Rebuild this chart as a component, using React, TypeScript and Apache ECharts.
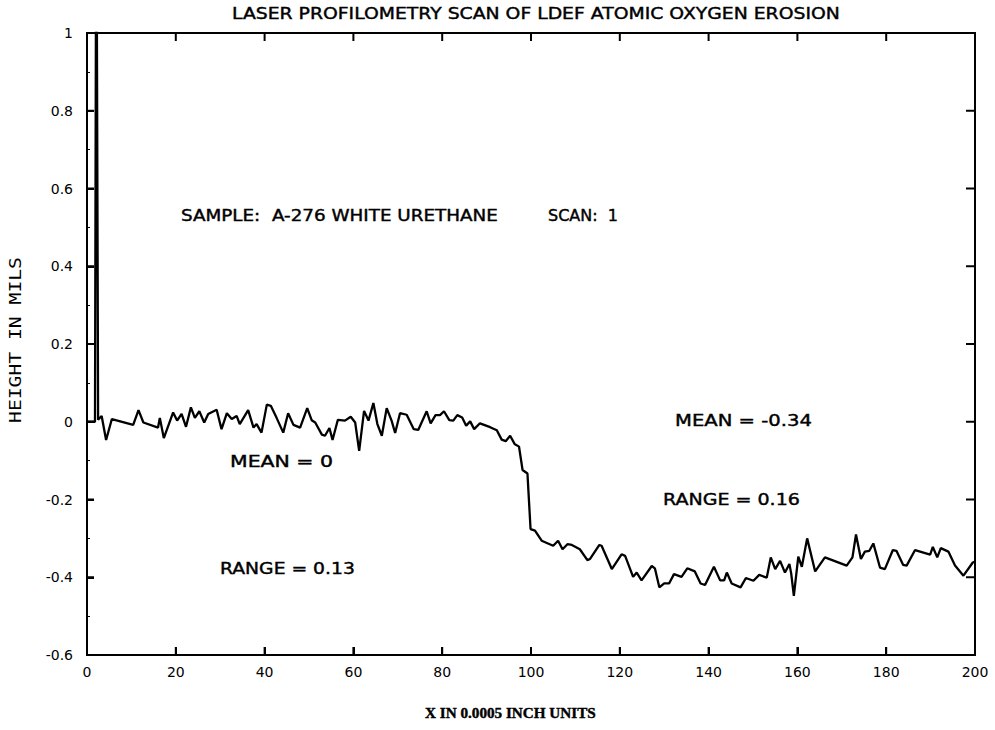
import React, { useEffect, useRef } from "react";
import * as echarts from "echarts";

// ---- data ----
const xPositions = [
  0, 1.8, 2.1, 2.5, 3.3, 4.3, 5.6, 10.4, 11.6, 12.7, 16, 16.4, 17.3, 19.4, 20.3, 21.3, 22.3, 23.4, 24.3, 25.3,
  26.4, 27.3, 29.2, 30.3, 31.5, 32.6, 33.7, 34.4, 36.3, 37.5, 38.2, 39.3, 40.5, 41.4, 42.7, 44.2, 45.3, 46.5, 48, 49.6,
  50.6, 51.4, 52.9, 53.6, 54.6, 55.3, 56.5, 58.1, 59.4, 60.4, 61.3, 62.4, 63.4, 64.5, 65.4, 66.4, 67.5, 68.6, 69.4, 70.5,
  72, 73.6, 74.6, 76.5, 77.4, 78.5, 79.5, 80.4, 81.6, 82.5, 83.4, 84.5, 85.4, 86.3, 87.2, 88.5, 90.8, 92.3, 93.4, 94.3,
  95.3, 96.3, 97.3, 98.1, 99.2, 99.9, 100.9, 102.4, 105, 106.1, 107.1, 108.2, 109.2, 111, 112.7, 113.3, 115.4, 115.9, 118.2, 120.4,
  121.2, 123, 123.8, 124.9, 127.2, 127.9, 128.9, 130, 131.1, 132.2, 133.9, 135.2, 136.9, 138.2, 139.2, 141.2, 142.6, 143.5, 144.1, 145.2,
  147.2, 148.4, 150.1, 151.4, 153.1, 154, 155, 156.1, 157.2, 158.2, 158.6, 159.2, 160.2, 161, 162.2, 164, 166.2, 171.1, 172.4, 173.2,
  174.3, 175.2, 176.2, 177.1, 178.6, 179.7, 181.5, 182.3, 183.8, 184.6, 186.5, 189.9, 190.5, 191.5, 192.3, 194, 195.5, 197.4, 199.5, 200,
];
const heights = [
  0, 0, 1.5, 0.005, 0.015, -0.047, 0.007, -0.008, 0.03, -0.002, -0.015, 0.01, -0.042, 0.024, 0.003, 0.02, -0.013, 0.037, 0.01, 0.027,
  -0.002, 0.02, 0.031, -0.019, 0.022, 0.007, 0.015, -0.006, 0.03, -0.015, -0.006, -0.028, 0.044, 0.041, 0.01, -0.028, 0.022, -0.008, -0.015, 0.035,
  0.004, -0.002, -0.033, -0.036, -0.016, -0.047, 0.005, 0.003, 0.013, -0.002, -0.075, 0.028, 0.003, 0.048, -0.006, -0.036, 0.035, 0.003, -0.029, 0.022,
  0.018, -0.019, -0.021, 0.027, -0.004, 0.017, 0.017, 0.027, 0.004, 0.003, 0.017, 0.011, -0.01, 0.001, -0.019, -0.004, -0.014, -0.022, -0.046, -0.05,
  -0.036, -0.057, -0.064, -0.124, -0.133, -0.276, -0.28, -0.306, -0.319, -0.306, -0.328, -0.315, -0.317, -0.328, -0.356, -0.353, -0.317, -0.319, -0.379, -0.341,
  -0.345, -0.399, -0.388, -0.408, -0.371, -0.377, -0.426, -0.416, -0.416, -0.392, -0.399, -0.377, -0.385, -0.416, -0.42, -0.373, -0.408, -0.408, -0.388, -0.416,
  -0.426, -0.402, -0.409, -0.394, -0.401, -0.349, -0.379, -0.358, -0.388, -0.366, -0.39, -0.448, -0.347, -0.373, -0.3, -0.385, -0.349, -0.37, -0.349, -0.29,
  -0.353, -0.334, -0.332, -0.313, -0.375, -0.379, -0.33, -0.332, -0.368, -0.37, -0.33, -0.342, -0.322, -0.349, -0.325, -0.334, -0.37, -0.396, -0.362, -0.36,
];

const xRange = [0, 200];
const xStep = 20;
const yRange = [-0.6, 1];
const yStep = 0.2;
const xTickValues = [20, 40, 60, 80, 100, 120, 140, 160, 180];
const yTickValues = [-0.4, -0.2, 0, 0.2, 0.4, 0.6, 0.8];

const titleText = "LASER PROFILOMETRY SCAN OF LDEF ATOMIC OXYGEN EROSION";
const sampleText = "SAMPLE:  A-276 WHITE URETHANE";
const scanText = "SCAN:  1";
const annotationTexts = ["MEAN = 0", "RANGE = 0.13", "MEAN = -0.34", "RANGE = 0.16"];
const xAxisTitle = "X IN 0.0005 INCH UNITS";
const yAxisTitle = "HEIGHT IN MILS";

// ---- helpers ----
let measureCtx: CanvasRenderingContext2D | null = null;
function fitScale(text: string, font: string, target: number) {
  if (!measureCtx) measureCtx = document.createElement("canvas").getContext("2d");
  if (!measureCtx) return 1;
  measureCtx.font = font;
  const w = measureCtx.measureText(text).width;
  return w > 0 ? target / w : 1;
}

const SANS = '"DejaVu Sans"';
const MONO = '"DejaVu Sans Mono"';
const SERIF = '"Liberation Serif"';

function textEl(text: string, left: number, right: number, midY: number, size: number, family: string, weight = "normal") {
  const font = `${weight} ${size}px ${family}`;
  return {
    type: "text",
    x: left,
    y: midY,
    scaleX: fitScale(text, font, right - left),
    style: {
      text,
      font,
      fill: "#000",
      stroke: "#000",
      lineWidth: 0.4,
      textAlign: "left",
      align: "left",
      textVerticalAlign: "middle",
      verticalAlign: "middle",
    },
  };
}

// tick mark series: each datum is [x, y, dx, dy] -> a short line from the data point, offset in pixels
function tickSeries(data: number[][]) {
  return {
    type: "custom",
    silent: true,
    clip: false,
    z: 10,
    data,
    renderItem: (_params: any, api: any) => {
      const p = api.coord([api.value(0), api.value(1)]);
      return {
        type: "line",
        shape: { x1: p[0], y1: p[1], x2: p[0] + api.value(2), y2: p[1] + api.value(3) },
        style: { stroke: "#000", lineWidth: 2 },
      };
    },
  };
}

export default function App() {
  const ref = useRef<HTMLDivElement>(null);

  useEffect(() => {
    document.body.style.margin = "0";
    if (!ref.current) return;
    const chart = echarts.init(ref.current, undefined, { renderer: "svg" });
    const yFont = `normal 15px ${MONO}`;

    const bottomTicks = xTickValues.map((v) => [v, yRange[0], 0, -8]);
    const topTicks = xTickValues.map((v) => [v, yRange[1], 0, 8]);
    const leftTicks = yTickValues.map((v) => [xRange[0], v, 7, 0]);
    const rightTicks = yTickValues.map((v) => [xRange[1], v, -9, 0]);

    chart.setOption({
      animation: false,
      backgroundColor: "#fff",
      grid: {
        left: 87,
        right: 20,
        top: 33,
        bottom: 75,
        containLabel: false,
        show: true,
        borderColor: "#000",
        borderWidth: 2,
        backgroundColor: "transparent",
      },
      xAxis: {
        type: "value",
        min: xRange[0],
        max: xRange[1],
        interval: xStep,
        axisLine: { show: true, onZero: false, lineStyle: { color: "#000", width: 2 } },
        axisTick: { show: true, inside: true, length: 8, lineStyle: { color: "#000", width: 2 } },
        axisLabel: { color: "#000", fontSize: 14, fontFamily: "DejaVu Sans", margin: 10 },
        splitLine: { show: false },
      },
      yAxis: {
        type: "value",
        min: yRange[0],
        max: yRange[1],
        interval: yStep,
        axisLine: { show: true, onZero: false, lineStyle: { color: "#000", width: 2 } },
        axisTick: { show: true, inside: true, length: 7, lineStyle: { color: "#000", width: 2 } },
        minorTick: { show: true, splitNumber: 2, length: 3, lineStyle: { color: "#000", width: 1 } },
        axisLabel: {
          color: "#000",
          fontSize: 14,
          fontFamily: "DejaVu Sans",
          margin: 14,
          formatter: (v: number) => {
            const r = Math.round(v * 10) / 10;
            return r === 0 ? "0" : String(r);
          },
        },
        splitLine: { show: false },
      },
      series: [
        {
          type: "line",
          data: xPositions.map((x, i) => [x, heights[i]]),
          showSymbol: false,
          symbol: "none",
          clip: true,
          lineStyle: { color: "#000", width: 2.3 },
          itemStyle: { color: "#000" },
        },
        tickSeries(bottomTicks),
        tickSeries(topTicks),
        tickSeries(leftTicks),
        tickSeries(rightTicks),
      ],
      graphic: [
        textEl(titleText, 232, 840, 14, 15, SANS),
        textEl(sampleText, 181, 498, 216, 15, SANS),
        textEl(scanText, 548, 618, 216, 15, SANS),
        textEl(annotationTexts[0], 230, 333, 462, 15, SANS),
        textEl(annotationTexts[1], 220, 355, 569, 15, SANS),
        textEl(annotationTexts[2], 675, 812, 421, 15, SANS),
        textEl(annotationTexts[3], 663, 800, 500, 15, SANS),
        textEl(xAxisTitle, 425, 596, 713, 15, SERIF, "bold"),
        {
          type: "text",
          x: 16,
          y: 340,
          rotation: Math.PI / 2,
          scaleX: fitScale(yAxisTitle, yFont, 166),
          style: {
            text: yAxisTitle,
            font: yFont,
            fill: "#000",
            textAlign: "center",
            align: "center",
            textVerticalAlign: "middle",
            verticalAlign: "middle",
          },
        },
      ],
    });

    return () => chart.dispose();
  }, []);

  return <div ref={ref} style={{ width: 995, height: 730 }} />;
}
